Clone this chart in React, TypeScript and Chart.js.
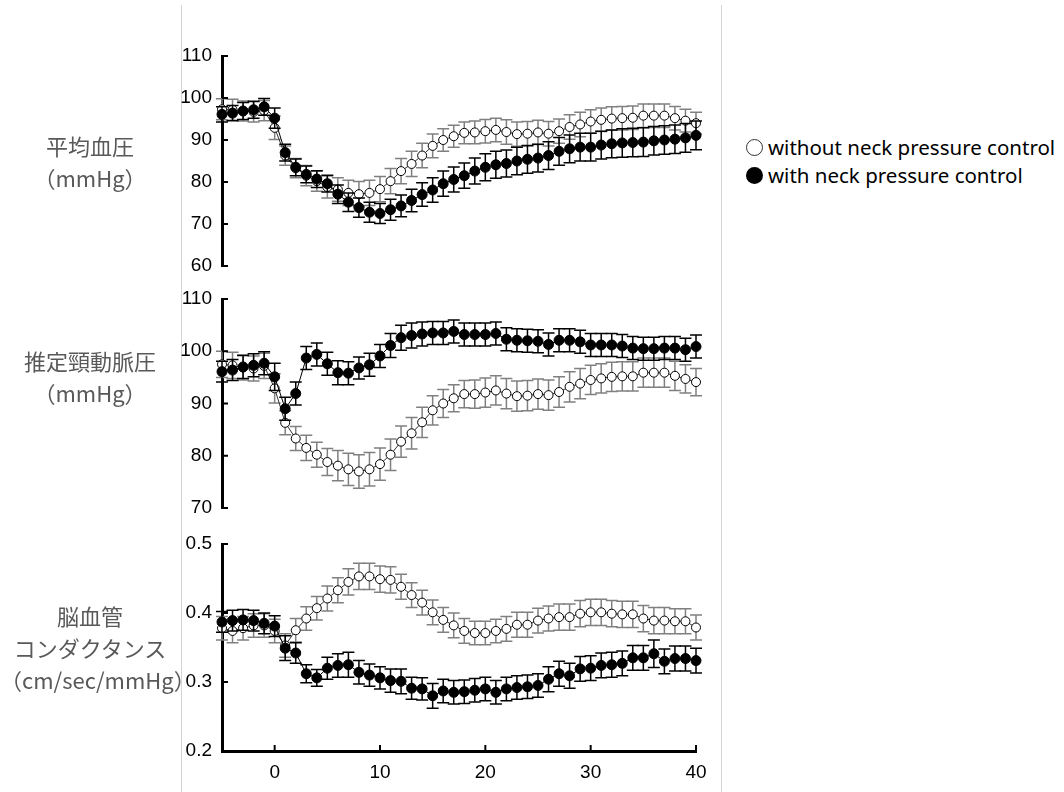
import React, { useEffect, useRef } from 'react';
import { Chart, registerables } from 'chart.js';

Chart.register(...registerables);

// ---------- data ----------
const timeMin = [
  -5, -4, -3, -2, -1, 0, 1, 2, 3, 4,
  5, 6, 7, 8, 9, 10, 11, 12, 13, 14,
  15, 16, 17, 18, 19, 20, 21, 22, 23, 24,
  25, 26, 27, 28, 29, 30, 31, 32, 33, 34,
  35, 36, 37, 38, 39, 40,
];
const timeTicks = [0, 10, 20, 30, 40];

// 平均血圧 (mmHg)
const mapTicks = [60, 70, 80, 90, 100, 110];
const mapWith = [
  96.1, 96.4, 96.9, 97.2, 97.9, 95.2, 87.0, 83.5, 81.8, 80.7,
  79.6, 77.1, 75.2, 73.9, 72.8, 72.5, 73.4, 74.3, 75.6, 77.0,
  78.1, 79.6, 80.6, 81.5, 82.6, 83.5, 84.1, 84.4, 85.0, 85.4,
  85.7, 86.3, 87.3, 87.9, 88.3, 88.3, 88.8, 89.1, 89.3, 89.4,
  89.5, 89.8, 90.0, 90.2, 90.5, 91.1,
];
const mapWithSE = [
  1.8, 1.8, 2.0, 2.0, 2.0, 2.4, 2.0, 2.0, 2.0, 2.0,
  2.0, 2.2, 2.2, 2.3, 2.4, 2.4, 2.5, 2.6, 2.7, 2.8,
  2.9, 3.0, 3.0, 3.0, 3.1, 3.2, 3.2, 3.2, 3.3, 3.3,
  3.3, 3.3, 3.3, 3.3, 3.3, 3.3, 3.3, 3.3, 3.4, 3.4,
  3.4, 3.4, 3.4, 3.4, 3.4, 3.4,
];
const mapWithout = [
  97.3, 97.2, 96.9, 96.7, 97.0, 92.9, 86.3, 83.3, 81.5, 80.2,
  78.8, 78.2, 77.4, 77.1, 77.4, 78.3, 80.2, 82.6, 84.3, 86.3,
  88.6, 90.0, 90.9, 91.7, 91.8, 92.1, 92.4, 91.9, 91.4, 91.5,
  91.8, 91.5, 92.1, 93.1, 93.7, 94.4, 94.8, 95.1, 95.2, 95.3,
  95.8, 95.8, 95.8, 95.2, 94.6, 94.0,
];
const mapWithoutSE = [
  2.5, 2.5, 2.4, 2.4, 2.4, 2.8, 2.3, 2.3, 2.4, 2.4,
  2.6, 2.8, 3.0, 3.0, 3.0, 3.0, 3.0, 3.0, 3.0, 2.9,
  2.8, 2.7, 2.6, 2.6, 2.7, 2.8, 2.8, 2.9, 2.9, 2.9,
  2.9, 2.9, 2.9, 2.9, 2.9, 2.8, 2.8, 2.8, 2.8, 2.8,
  2.8, 2.8, 2.8, 2.8, 2.7, 2.6,
];

// 推定頸動脈圧 (mmHg)
const carotidTicks = [70, 80, 90, 100, 110];
const carotidWith = [
  96.1, 96.4, 97.0, 97.3, 97.7, 95.1, 89.0, 91.9, 98.7, 99.4,
  97.6, 95.9, 95.8, 96.8, 97.4, 99.1, 101.1, 102.6, 103.0, 103.3,
  103.5, 103.5, 103.8, 103.2, 103.2, 103.2, 103.4, 102.3, 102.1, 102.0,
  101.9, 101.3, 102.1, 102.1, 101.8, 101.2, 101.2, 101.2, 101.0, 100.6,
  100.5, 100.5, 100.6, 100.6, 100.3, 100.9,
];
const carotidWithSE = [
  2.0, 2.0, 2.2, 2.2, 2.2, 2.6, 2.2, 2.2, 2.2, 2.2,
  2.2, 2.3, 2.2, 2.1, 2.2, 2.2, 2.3, 2.4, 2.4, 2.3,
  2.2, 2.2, 2.2, 2.2, 2.2, 2.2, 2.2, 2.2, 2.2, 2.2,
  2.2, 2.2, 2.2, 2.2, 2.2, 2.2, 2.2, 2.2, 2.2, 2.2,
  2.2, 2.2, 2.2, 2.2, 2.2, 2.2,
];
const carotidWithout = [
  97.5, 97.3, 96.9, 96.7, 97.2, 92.9, 86.3, 83.3, 81.5, 80.2,
  78.8, 78.1, 77.4, 77.0, 77.4, 78.4, 80.2, 82.7, 84.3, 86.4,
  88.7, 90.0, 91.0, 91.8, 91.8, 92.1, 92.5, 91.9, 91.4, 91.5,
  91.8, 91.6, 92.2, 93.2, 93.8, 94.5, 94.8, 95.1, 95.2, 95.2,
  95.9, 95.9, 95.9, 95.3, 94.7, 94.1,
];
const carotidWithoutSE = [
  2.5, 2.5, 2.4, 2.4, 2.4, 2.8, 2.3, 2.3, 2.4, 2.4,
  2.6, 2.9, 3.1, 3.2, 3.2, 3.1, 3.0, 3.0, 3.0, 2.9,
  2.8, 2.7, 2.6, 2.6, 2.7, 2.8, 2.8, 2.9, 2.9, 2.9,
  2.9, 2.9, 2.9, 2.9, 2.9, 2.8, 2.8, 2.8, 2.8, 2.8,
  2.8, 2.8, 2.8, 2.8, 2.7, 2.6,
];

// 脳血管コンダクタンス (cm/sec/mmHg)
const conductanceTicks = [0.2, 0.3, 0.4, 0.5];
const conductanceWith = [
  0.387, 0.389, 0.390, 0.389, 0.385, 0.381, 0.349, 0.342, 0.312, 0.306,
  0.320, 0.324, 0.325, 0.314, 0.310, 0.306, 0.302, 0.301, 0.291, 0.290,
  0.280, 0.287, 0.285, 0.286, 0.288, 0.290, 0.285, 0.290, 0.292, 0.293,
  0.295, 0.304, 0.312, 0.309, 0.319, 0.320, 0.324, 0.325, 0.327, 0.335,
  0.335, 0.341, 0.330, 0.334, 0.334, 0.331,
];
const conductanceWithSE = [
  0.015, 0.015, 0.015, 0.015, 0.015, 0.015, 0.018, 0.015, 0.013, 0.012,
  0.016, 0.017, 0.018, 0.017, 0.016, 0.016, 0.017, 0.018, 0.016, 0.016,
  0.018, 0.017, 0.017, 0.017, 0.017, 0.017, 0.017, 0.017, 0.017, 0.017,
  0.017, 0.018, 0.018, 0.018, 0.018, 0.018, 0.018, 0.018, 0.018, 0.018,
  0.018, 0.020, 0.018, 0.018, 0.018, 0.018,
];
const conductanceWithout = [
  0.378, 0.374, 0.378, 0.382, 0.382, 0.374, 0.353, 0.375, 0.392, 0.407,
  0.421, 0.433, 0.445, 0.453, 0.453, 0.449, 0.448, 0.438, 0.426, 0.415,
  0.401, 0.390, 0.382, 0.374, 0.371, 0.371, 0.374, 0.377, 0.383, 0.383,
  0.389, 0.392, 0.394, 0.394, 0.399, 0.401, 0.401, 0.399, 0.398, 0.398,
  0.392, 0.389, 0.389, 0.388, 0.388, 0.379,
];
const conductanceWithoutSE = [
  0.017, 0.017, 0.017, 0.017, 0.017, 0.017, 0.017, 0.017, 0.017, 0.017,
  0.018, 0.018, 0.019, 0.019, 0.019, 0.019, 0.019, 0.018, 0.018, 0.018,
  0.018, 0.018, 0.018, 0.018, 0.017, 0.017, 0.017, 0.018, 0.018, 0.018,
  0.018, 0.018, 0.019, 0.019, 0.019, 0.019, 0.019, 0.019, 0.019, 0.019,
  0.019, 0.019, 0.019, 0.018, 0.018, 0.018,
];

const legendWithout = 'without neck pressure control';
const legendWith = 'with neck pressure control';

// ---------- plugins ----------
const errorBarPlugin = {
  id: 'errorBars',
  beforeDatasetDraw(chart: any, args: any) {
    const ds: any = chart.data.datasets[args.index];
    const errs: number[] = ds.errors;
    if (!errs) return;
    const ys = chart.scales.y;
    const ctx = chart.ctx;
    ctx.save();
    ctx.strokeStyle = ds.errorColor;
    ctx.lineWidth = 1.5;
    args.meta.data.forEach((pt: any, i: number) => {
      const v = ds.data[i].y;
      const e = errs[i];
      const top = ys.getPixelForValue(v + e);
      const bot = ys.getPixelForValue(v - e);
      const x = pt.x;
      ctx.beginPath();
      ctx.moveTo(x, top);
      ctx.lineTo(x, bot);
      ctx.moveTo(x - 6, top);
      ctx.lineTo(x + 6, top);
      ctx.moveTo(x - 6, bot);
      ctx.lineTo(x + 6, bot);
      ctx.stroke();
    });
    ctx.restore();
  },
};

const inwardTicksPlugin = {
  id: 'inwardTicks',
  afterDatasetsDraw(chart: any) {
    const ctx = chart.ctx;
    const { left, bottom } = chart.chartArea;
    ctx.save();
    ctx.strokeStyle = '#000';
    ctx.lineWidth = 2;
    const ys = chart.scales.y;
    ys.ticks.forEach((t: any) => {
      const p = ys.getPixelForValue(t.value);
      ctx.beginPath();
      ctx.moveTo(left, p);
      ctx.lineTo(left + 6, p);
      ctx.stroke();
    });
    const xs = chart.scales.x;
    if (xs.options.display) {
      xs.ticks.forEach((t: any) => {
        const p = xs.getPixelForValue(t.value);
        ctx.beginPath();
        ctx.moveTo(p, bottom);
        ctx.lineTo(p, bottom - 6);
        ctx.stroke();
      });
    }
    ctx.restore();
  },
};

const tickFont = { family: "'Liberation Sans', Arial, sans-serif", size: 19 };

function toPoints(vals: number[]) {
  return timeMin.map((t, i) => ({ x: t, y: vals[i] }));
}

function makeConfig(
  withVals: number[], withSE: number[],
  withoutVals: number[], withoutSE: number[],
  yTicks: number[], showX: boolean, decimals: number
): any {
  return {
    type: 'line',
    data: {
      datasets: [
        {
          label: legendWith,
          data: toPoints(withVals),
          errors: withSE,
          errorColor: '#000',
          borderColor: '#000',
          borderWidth: 1,
          backgroundColor: '#000',
          pointBackgroundColor: '#000',
          pointBorderColor: '#000',
          pointRadius: 5,
          pointBorderWidth: 1,
          tension: 0,
          clip: false,
        },
        {
          label: legendWithout,
          data: toPoints(withoutVals),
          errors: withoutSE,
          errorColor: '#808080',
          borderColor: '#333',
          borderWidth: 1,
          backgroundColor: '#fff',
          pointBackgroundColor: '#fff',
          pointBorderColor: '#000',
          pointRadius: 4.5,
          pointBorderWidth: 1,
          tension: 0,
          clip: false,
        },
      ],
    },
    options: {
      animation: false,
      responsive: false,
      maintainAspectRatio: false,
      layout: { padding: { top: 12, bottom: showX ? 0 : 12, left: 0, right: 24 } },
      plugins: { legend: { display: false }, tooltip: { enabled: false } },
      scales: {
        x: {
          type: 'linear',
          min: -5,
          max: 40,
          display: showX,
          grid: { display: false, drawTicks: false },
          border: { display: true, width: 3, color: '#000' },
          ticks: {
            padding: 10,
            font: tickFont,
            color: '#000',
            callback: (v: number) => String(v),
          },
          afterBuildTicks: (s: any) => {
            s.ticks = timeTicks.map((v) => ({ value: v }));
          },
          afterFit: (s: any) => {
            s.height = showX ? 41 : 0;
            s.paddingLeft = 0;
            s.paddingRight = 0;
          },
        },
        y: {
          type: 'linear',
          min: yTicks[0],
          max: yTicks[yTicks.length - 1],
          grid: { display: false, drawTicks: false },
          border: { display: true, width: 3, color: '#000' },
          ticks: {
            padding: 10,
            font: tickFont,
            color: '#000',
            callback: (v: number) => v.toFixed(decimals),
          },
          afterBuildTicks: (s: any) => {
            s.ticks = yTicks.map((v) => ({ value: v }));
          },
          afterFit: (s: any) => {
            s.width = 62;
            s.paddingTop = 0;
            s.paddingBottom = 0;
          },
        },
      },
    },
    plugins: [errorBarPlugin, inwardTicksPlugin],
  };
}

const labelStyle: React.CSSProperties = {
  position: 'absolute',
  left: 0,
  width: 180,
  textAlign: 'center',
  fontFamily: "'Noto Sans CJK JP', 'Noto Sans', sans-serif",
  fontSize: 22,
  lineHeight: '32px',
  color: '#595959',
  whiteSpace: 'nowrap',
};

export default function App() {
  const r1 = useRef<HTMLCanvasElement>(null);
  const r2 = useRef<HTMLCanvasElement>(null);
  const r3 = useRef<HTMLCanvasElement>(null);

  useEffect(() => {
    const charts = [
      new Chart(r1.current as HTMLCanvasElement,
        makeConfig(mapWith, mapWithSE, mapWithout, mapWithoutSE, mapTicks, false, 0)),
      new Chart(r2.current as HTMLCanvasElement,
        makeConfig(carotidWith, carotidWithSE, carotidWithout, carotidWithoutSE, carotidTicks, false, 0)),
      new Chart(r3.current as HTMLCanvasElement,
        makeConfig(conductanceWith, conductanceWithSE, conductanceWithout, conductanceWithoutSE, conductanceTicks, true, 1)),
    ];
    return () => charts.forEach((c) => c.destroy());
  }, []);

  const canvasStyle = (top: number, h: number): React.CSSProperties => ({
    position: 'absolute',
    left: 160,
    top,
    width: 560,
    height: h,
  });

  return (
    <div
      style={{
        position: 'absolute',
        left: 0,
        top: 0,
        width: 1064,
        height: 792,
        background: '#fff',
        overflow: 'hidden',
      }}
    >
      <div style={{ position: 'absolute', left: 181, top: 5, width: 1, height: 787, background: '#d4d4d4' }} />
      <div style={{ position: 'absolute', left: 721, top: 5, width: 1, height: 787, background: '#d4d4d4' }} />

      <canvas ref={r1} width={560} height={234} style={canvasStyle(44, 234)} />
      <canvas ref={r2} width={560} height={233} style={canvasStyle(287, 233)} />
      <canvas ref={r3} width={560} height={260} style={canvasStyle(532, 260)} />

      <div style={{ ...labelStyle, top: 129 }}>
        <div>平均血圧</div>
        <div>（mmHg）</div>
      </div>
      <div style={{ ...labelStyle, top: 344 }}>
        <div>推定頸動脈圧</div>
        <div>（mmHg）</div>
      </div>
      <div style={{ ...labelStyle, top: 599 }}>
        <div>脳血管</div>
        <div>コンダクタンス</div>
        <div>（cm/sec/mmHg）</div>
      </div>

      <div
        style={{
          position: 'absolute',
          left: 746,
          top: 133,
          fontFamily: "'Noto Sans', 'Open Sans', sans-serif",
          fontSize: 20.5,
          lineHeight: '28px',
          color: '#000',
          whiteSpace: 'nowrap',
        }}
      >
        <div style={{ display: 'flex', alignItems: 'center' }}>
          <span
            style={{
              display: 'inline-block',
              width: 15,
              height: 15,
              borderRadius: '50%',
              border: '1px solid #333',
              marginRight: 5,
            }}
          />
          <span>{legendWithout}</span>
        </div>
        <div style={{ display: 'flex', alignItems: 'center' }}>
          <span
            style={{
              display: 'inline-block',
              width: 17,
              height: 17,
              borderRadius: '50%',
              background: '#000',
              marginRight: 5,
            }}
          />
          <span>{legendWith}</span>
        </div>
      </div>
    </div>
  );
}
